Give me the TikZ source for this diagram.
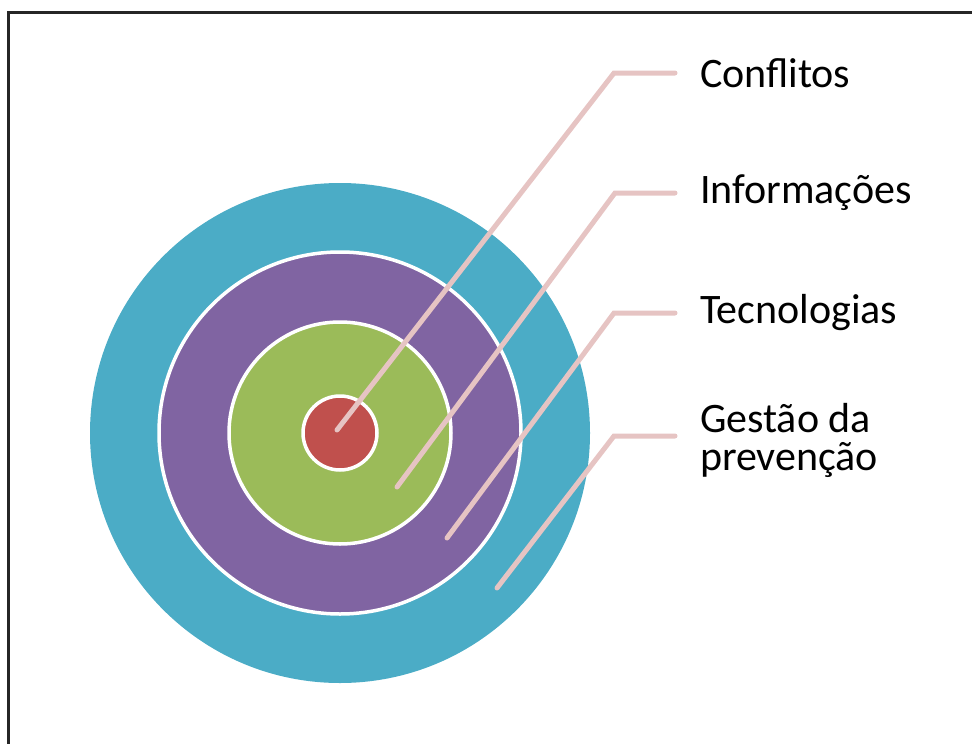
\documentclass[tikz,border=0pt]{standalone}
\usepackage{fontspec}
\setmainfont{Carlito}
\definecolor{ringouter}{HTML}{4BACC6}
\definecolor{ringpurple}{HTML}{8064A2}
\definecolor{ringgreen}{HTML}{9BBB59}
\definecolor{ringred}{HTML}{C0504D}
\definecolor{connpink}{HTML}{E6C4C3}
\begin{document}
\begin{tikzpicture}[x=1pt,y=-1pt,
  ring/.style={circle,inner sep=0pt,outer sep=0pt},
  innerring/.style={ring,draw=white,line width=3.5pt},
  conn/.style={draw=connpink,line width=5pt,line cap=round,line join=miter},
  lbl/.style={anchor=west,inner sep=0pt,outer sep=0pt,align=left,font=\fontsize{42}{38}\selectfont,text=black}]
\useasboundingbox (0,0) rectangle (972,744);
\begin{scope}
\clip (0,0) rectangle (972,744);
\draw[line width=3pt,black!85] (8,12) rectangle (1000,780);
\end{scope}
% rings
\node[ring,fill=ringouter,minimum size=500pt] (outer) at (340,433) {};
\node[innerring,fill=ringpurple,minimum size=362pt] (purple) at (340,433) {};
\node[innerring,fill=ringgreen,minimum size=222pt] (green) at (340,433) {};
\node[innerring,fill=ringred,minimum size=74pt] (red) at (340,433) {};
% labels
\node[lbl] (l1) at (700,73) {Conflitos};
\node[lbl] (l2) at (700,193) {Informações};
\node[lbl] (l3) at (700,313) {Tecnologias};
\node[lbl] (l4) at (700,440) {Gestão da\\prevenção};
% connector points
\coordinate (s1) at (337,430);
\coordinate (k1) at (614,73);
\coordinate (s2) at (397,487);
\coordinate (k2) at (615,193);
\coordinate (s3) at (447,538);
\coordinate (k3) at (614,313);
\coordinate (s4) at (497,588);
\coordinate (k4) at (614,436);
\draw[conn] (s1) -- (k1) -- ([xshift=-25pt]l1.west);
\draw[conn] (s2) -- (k2) -- ([xshift=-25pt]l2.west);
\draw[conn] (s3) -- (k3) -- ([xshift=-25pt]l3.west);
\draw[conn] (s4) -- (k4) -- (675,436);
\end{tikzpicture}
\end{document}
